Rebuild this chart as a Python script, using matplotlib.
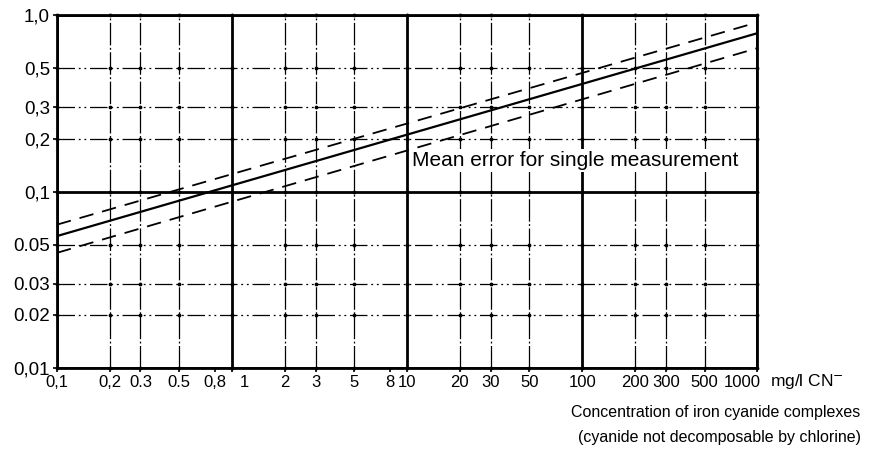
import matplotlib
matplotlib.use("Agg")
import matplotlib.pyplot as plt
import matplotlib.transforms as mtransforms
import numpy as np

plt.rcParams['font.family'] = ['Liberation Sans', 'DejaVu Sans']

# Datos (escala log-log)
x_lineas = [0.1, 1000]
y_media = [0.056, 0.79]
y_superior = [0.065, 0.91]
y_inferior = [0.045, 0.65]

x_ticks = [0.1, 0.2, 0.3, 0.5, 0.8, 1, 2, 3, 5, 8, 10, 20, 30, 50, 100, 200, 300, 500, 1000]
x_etiquetas = ["0,1", "0,2", "0.3", "0.5", "0,8", "1", "2", "3", "5", "8", "10",
               "20", "30", "50", "100", "200", "300", "500", "1000"]
y_ticks = [0.01, 0.02, 0.03, 0.05, 0.1, 0.2, 0.3, 0.5, 1.0]
y_etiquetas = ["0,01", "0.02", "0.03", "0.05", "0,1", "0,2", "0,3", "0,5", "1,0"]

# Lineas de rejilla
x_rejilla_menor = [0.2, 0.3, 0.5, 2, 3, 5, 20, 30, 50, 200, 300, 500]
x_rejilla_mayor = [0.1, 1, 10, 100, 1000]
y_rejilla_menor = [0.02, 0.03, 0.05, 0.2, 0.3, 0.5]
y_rejilla_mayor = [0.01, 0.1, 1.0]

fig = plt.figure(figsize=(8.71, 4.59), dpi=100)
ax = fig.add_axes([0.0654, 0.198, 0.804, 0.769])
ax.set_xscale('log')
ax.set_yscale('log')
ax.set_xlim(0.1, 1000)
ax.set_ylim(0.01, 1.0)

for xv in x_rejilla_menor:
    ax.axvline(xv, color='black', lw=0.9, ls=(0, (18, 2, 1.5, 2)), zorder=1)
for xv in x_rejilla_mayor:
    ax.axvline(xv, color='black', lw=2.0, zorder=1)
for yv in y_rejilla_menor:
    ax.axhline(yv, color='black', lw=0.9, ls=(0, (14, 3, 1.5, 3, 1.5, 3)), zorder=1)
for yv in y_rejilla_mayor:
    ax.axhline(yv, color='black', lw=2.0, zorder=1)

# puntos en las intersecciones
xx, yy = np.meshgrid(x_rejilla_menor + x_rejilla_mayor, y_rejilla_menor + y_rejilla_mayor)
ax.scatter(xx.ravel(), yy.ravel(), s=3, color='black', zorder=2, clip_on=False)

ax.plot(x_lineas, y_media, color='black', lw=1.6, zorder=3)
ax.plot(x_lineas, y_superior, color='black', lw=1.3, ls=(0, (8, 5)), zorder=3)
ax.plot(x_lineas, y_inferior, color='black', lw=1.3, ls=(0, (8, 5)), zorder=3)

ax.text(10.6, 0.15, "Mean error for single measurement", fontsize=15,
        ha='left', va='center', zorder=4,
        bbox=dict(facecolor='white', edgecolor='none', pad=1.5))

for s in ax.spines.values():
    s.set_linewidth(2.0)

ax.xaxis.set_minor_locator(matplotlib.ticker.NullLocator())
ax.yaxis.set_minor_locator(matplotlib.ticker.NullLocator())
ax.set_xticks(x_ticks)
ax.set_xticklabels(x_etiquetas)
ax.set_yticks(y_ticks)
ax.set_yticklabels(y_etiquetas)
ax.tick_params(axis='both', direction='out', length=3, width=1.2, pad=2)
ax.tick_params(axis='x', labelsize=12)
ax.tick_params(axis='y', labelsize=13.5)

# el "1" esta desplazado a la derecha y el "1000" a la izquierda en el original
etq = ax.get_xticklabels()
a_la_derecha = mtransforms.ScaledTranslation(12 / 100, 0, fig.dpi_scale_trans)
etq[5].set_transform(etq[5].get_transform() + a_la_derecha)
a_la_izquierda = mtransforms.ScaledTranslation(-15 / 100, 0, fig.dpi_scale_trans)
etq[-1].set_transform(etq[-1].get_transform() + a_la_izquierda)

fig.text(0.884, 0.168, "mg/l CN$^{-}$", fontsize=12.5, ha='left', va='center')
fig.text(0.988, 0.102, "Concentration of iron cyanide complexes", fontsize=11.5,
         ha='right', va='center')
fig.text(0.988, 0.047, "(cyanide not decomposable by chlorine)", fontsize=11.5,
         ha='right', va='center')

fig.savefig("out.png", dpi=100)
